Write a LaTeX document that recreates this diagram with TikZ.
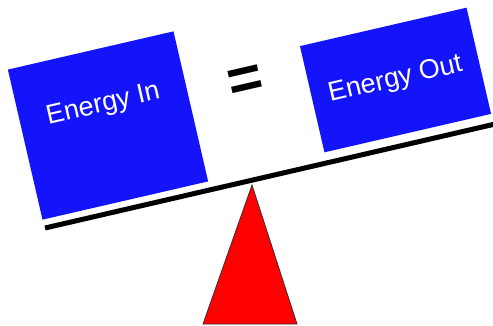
\documentclass[tikz,border=0pt]{standalone}
\usepackage{fontspec}
\setmainfont{Liberation Sans}
\usetikzlibrary{calc}
\definecolor{energyblue}{HTML}{1414FA}
\definecolor{fulcrumred}{HTML}{FF0000}

\begin{document}
\begin{tikzpicture}[
  x=1pt, y=1pt,
  energybox/.style={rectangle, fill=energyblue, inner sep=0pt, rotate=13},
  boxlabel/.style={text=white, font=\fontsize{27}{32}\selectfont, inner sep=0pt, rotate=13},
  equalsign/.style={font=\fontsize{60}{66}\selectfont\bfseries, inner sep=0pt, rotate=13},
  beam/.style={line width=5pt},
  fulcrum/.style={draw=black!80, fill=fulcrumred, line width=0.8pt}
]
\useasboundingbox (0,0) rectangle (493,325);
\node[energybox, minimum width=170pt, minimum height=154pt] (inbox) at (108,199.5) {};
\node[energybox, minimum width=171pt, minimum height=109pt] (outbox) at (395.5,245) {};
\node[boxlabel] (intext) at ($(inbox.center)!0.27!(inbox.north)$) {Energy In};
\node[boxlabel] (outtext) at (outbox.center) {Energy Out};
\node[equalsign] (equals) at (246,242) {=};
% seesaw
\coordinate (beamleft) at (45,97);
\coordinate (beamright) at (500,202.1);
\draw[beam] (beamleft) -- (beamright);
\coordinate (apex) at (252,140);
\coordinate (baseleft) at (203,1);
\coordinate (baseright) at (297,1);
\draw[fulcrum] (apex) -- (baseright) -- (baseleft) -- cycle;
\end{tikzpicture}
\end{document}
